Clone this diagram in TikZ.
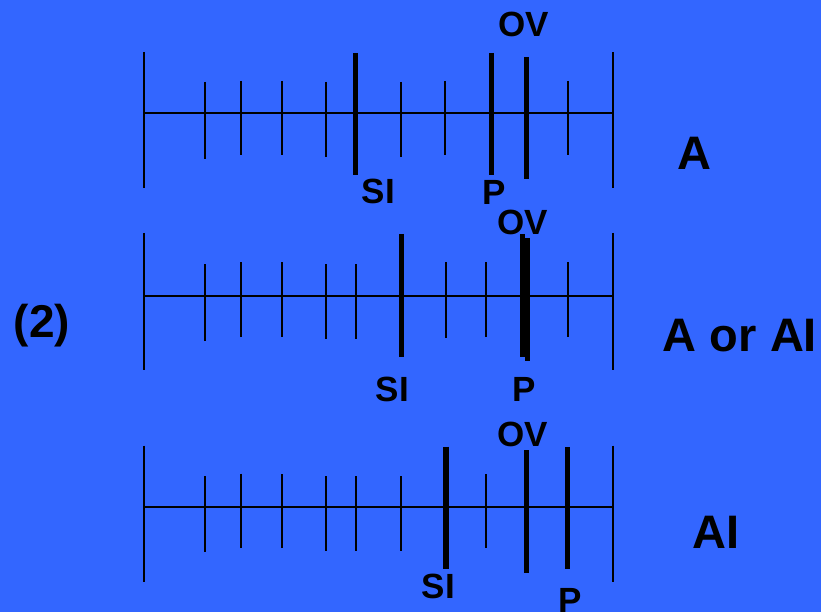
\documentclass[tikz,border=0pt]{standalone}
\usepackage{fontspec}
\setmainfont{Liberation Sans}
\definecolor{bgblue}{RGB}{51,102,255}
\begin{document}
\begin{tikzpicture}[x=1pt,y=-1pt,
  thinline/.style={line width=1.8pt,black},
  thickline/.style={line width=5.5pt,black},
  lab/.style={anchor=base,inner sep=0pt,font=\fontsize{35}{35}\selectfont\bfseries},
  side/.style={anchor=base,inner sep=0pt,font=\fontsize{47}{47}\selectfont\bfseries}]
\fill[bgblue] (0,0) rectangle (821,612);
\useasboundingbox (0,0) rectangle (821,612);
% ---------- row 1 ----------
\draw[thinline] (144,113) -- (612.7,113);
\draw[thinline] (144,52) -- (144,188);
\draw[thinline] (612.7,52) -- (612.7,188);
\foreach \x/\a/\b in {204.7/82/159,241/81/155,281.7/81/155,325.7/82/157,401.3/82/157,445/81/155,568/81/155}
  \draw[thinline] (\x,\a) -- (\x,\b);
\draw[thickline] (355.7,53) -- (355.7,175);
\draw[thickline] (491.7,53) -- (491.7,175);
\draw[thickline] (526.7,57) -- (526.7,179);
\node[lab] (ov1) at (524,36.7) {OV};
\node[lab] (si1) at (378.3,204) {SI};
\node[lab] (p1) at (494.5,205) {P};
\node[side] (a1) at (694.5,170) {A};
% ---------- row 2 ----------
\draw[thinline] (144,295.7) -- (612.7,295.7);
\draw[thinline] (144,233) -- (144,370);
\draw[thinline] (612.7,233) -- (612.7,370);
\foreach \x/\a/\b in {204.7/264/340.7,241/262/336.7,281.7/262/337,325.7/264/339,356/264/339,445.7/262/338,486.3/262/337,568/262/337}
  \draw[thinline] (\x,\a) -- (\x,\b);
\draw[thickline] (401.7,234) -- (401.7,356.7);
\draw[thickline] (522.7,234) -- (522.7,357);
\draw[thickline] (527.3,238) -- (527.3,361);
\node[lab] (ov2) at (523,235) {OV};
\node[lab] (si2) at (392.5,401) {SI};
\node[lab] (p2) at (524,401) {P};
\node[side] (a2) at (740,351.7) {A or AI};
\node[anchor=base,inner sep=0pt,font=\fontsize{46}{46}\selectfont\bfseries] (n2) at (42,337.5) {(2)};
% ---------- row 3 ----------
\draw[thinline] (144,506.7) -- (612.7,506.7);
\draw[thinline] (144,445.7) -- (144,581.7);
\draw[thinline] (612.7,445.7) -- (612.7,581.7);
\foreach \x/\a/\b in {204.7/476/552,241/473.7/548,281.7/474/548,325.7/476/551,356/476/551,401.3/476/551,486.3/474/548}
  \draw[thinline] (\x,\a) -- (\x,\b);
\draw[thickline] (446,446.7) -- (446,568.7);
\draw[thickline] (526.7,450) -- (526.7,572.7);
\draw[thickline] (567.7,447) -- (567.7,569);
\node[lab] (ov3) at (523,446.7) {OV};
\node[lab] (si3) at (438.3,598.3) {SI};
\node[lab] (p3) at (569.7,612) {P};
\node[side] (a3) at (716,548.3) {AI};
\end{tikzpicture}
\end{document}
